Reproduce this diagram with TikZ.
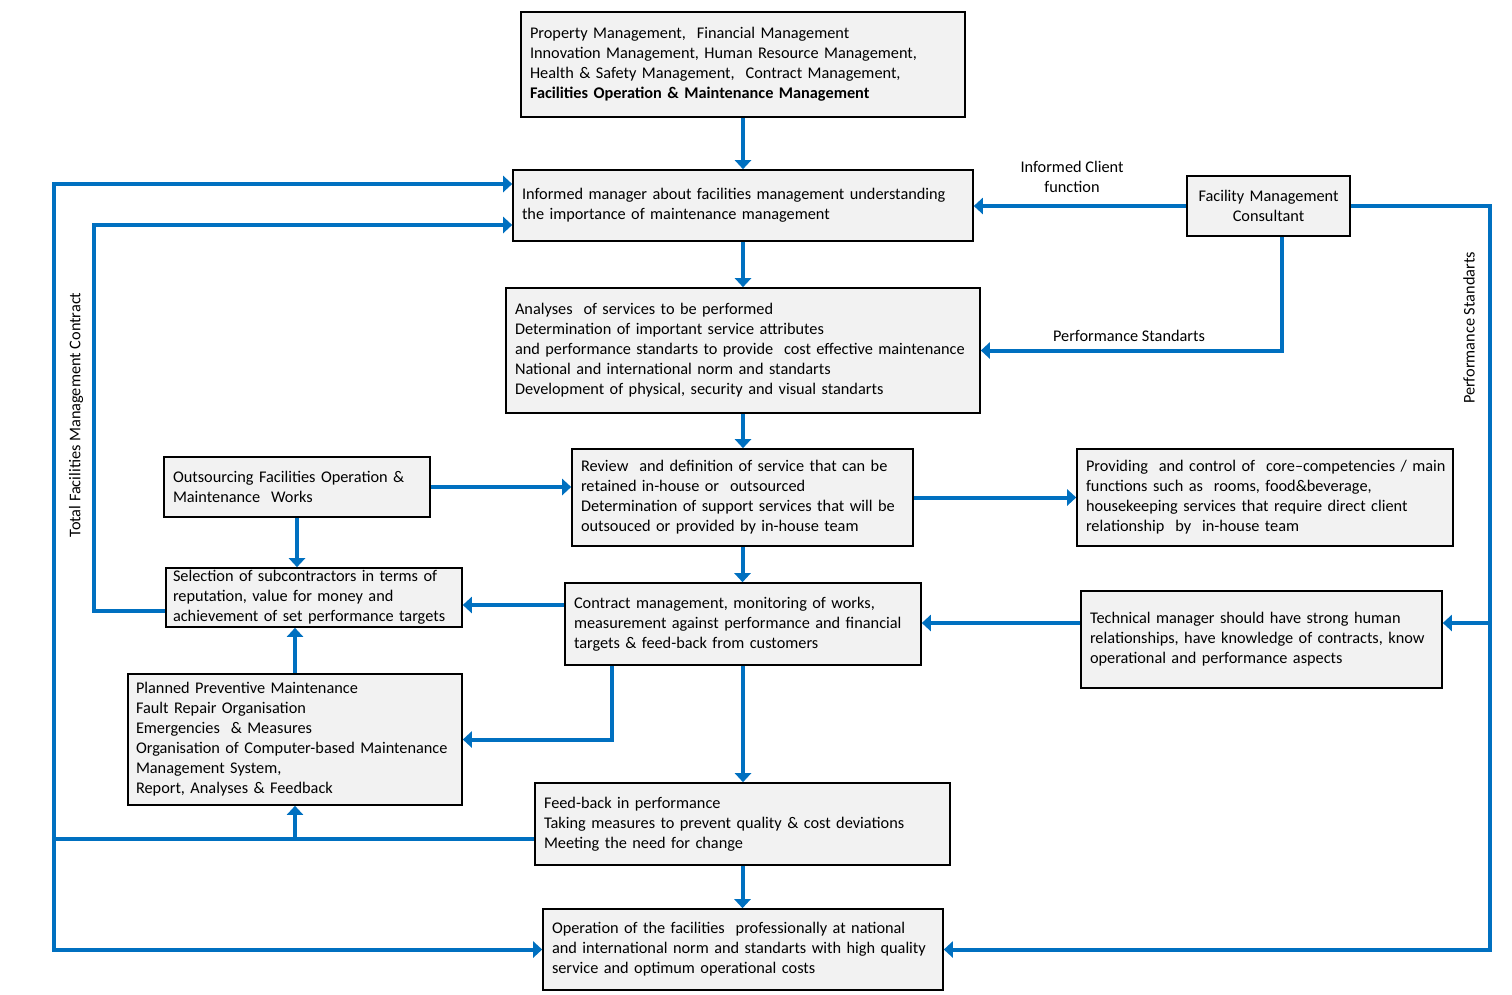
\documentclass[tikz,border=0pt]{standalone}
\usepackage{fontspec}
\setmainfont{Carlito}
\usetikzlibrary{arrows.meta,calc}
\definecolor{conblue}{RGB}{0,112,192}
\definecolor{boxfill}{RGB}{242,242,242}
\begin{document}
\begin{tikzpicture}[x=1pt,y=-1pt,
  box/.style={draw=black, line width=1.6pt, fill=boxfill, align=left,
    inner xsep=9pt, inner ysep=2pt, font=\fontsize{16.3}{20}\selectfont},
  lbl/.style={font=\fontsize{16.3}{20}\selectfont, align=center, inner sep=1pt},
  conn/.style={draw=conblue, line width=4pt},
  arr/.style={conn, -{Triangle[width=16pt,length=9pt]}}]
\useasboundingbox (0,0) rectangle (1512,994);

% boxes
\node[box, minimum width=444pt, text width=426pt, minimum height=105pt] (top) at (743,64.5)
 {Property Management,\ \ Financial Management\\
  Innovation Management, Human Resource Management,\\
  Health \& Safety Management,\ \ Contract Management,\\
  \textbf{Facilities Operation \& Maintenance Management}};
\node[box, minimum width=460pt, text width=442pt, minimum height=71pt] (inf) at (743,205.5)
 {Informed manager about facilities management understanding\\
  the importance of maintenance management};
\node[box, minimum width=474pt, text width=456pt, minimum height=125pt] (ana) at (743,350.5)
 {Analyses\ \ of services to be performed\\
  Determination of important service attributes\\
  and performance standarts to provide\ \ cost effective maintenance\\
  National and international norm and standarts\\
  Development of physical, security and visual standarts};
\node[box, minimum width=341pt, text width=323pt, minimum height=97pt] (rev) at (742.5,497.5)
 {Review\ \ and definition of service that can be\\
  retained in-house or\ \ outsourced\\
  Determination of support services that will be\\
  outsouced or provided by in-house team};
\node[box, minimum width=266pt, text width=248pt, minimum height=60pt] (out) at (297,487)
 {Outsourcing Facilities Operation \&\\
  Maintenance\ \ Works};
\node[box, minimum width=376pt, text width=358pt, minimum height=97pt] (prov) at (1265,497.5)
 {\mbox{Providing\ \ and control of\ \ core--competencies / main}\\
  functions such as\ \ rooms, food\&beverage,\\
  housekeeping services that require direct client\\
  relationship\ \ by\ \ in-house team};
\node[box, minimum width=296pt, text width=282pt, inner xsep=7pt, minimum height=59pt] (sel) at (314,597.5)
 {Selection of subcontractors in terms of\\
  reputation, value for money and\\
  achievement of set performance targets};
\node[box, minimum width=356pt, text width=338pt, minimum height=82pt] (con) at (743,624)
 {Contract management, monitoring of works,\\
  measurement against performance and financial\\
  targets \& feed-back from customers};
\node[box, minimum width=361pt, text width=343pt, minimum height=97pt] (tech) at (1261.5,639.5)
 {Technical manager should have strong human\\
  relationships, have knowledge of contracts, know\\
  operational and performance aspects};
\node[box, minimum width=334pt, text width=318pt, inner xsep=8pt, minimum height=131pt] (plan) at (295,739.5)
 {Planned Preventive Maintenance\\
  Fault Repair Organisation\\
  Emergencies\ \ \& Measures\\
  Organisation of Computer-based Maintenance\\
  Management System,\\
  Report, Analyses \& Feedback};
\node[box, minimum width=415pt, text width=397pt, minimum height=82pt] (fb) at (742.5,824)
 {Feed-back in performance\\
  Taking measures to prevent quality \& cost deviations\\
  Meeting the need for change};
\node[box, minimum width=400pt, text width=382pt, minimum height=81pt] (op) at (743,949.5)
 {Operation of the facilities\ \ professionally at national\\
  and international norm and standarts with high quality\\
  service and optimum operational costs};
\node[box, align=center, minimum width=163pt, text width=150pt, inner xsep=6.5pt, minimum height=60pt] (fmc) at (1268.5,206)
 {Facility Management\\Consultant};

% labels
\node[lbl] (lic) at (1072,177) {Informed Client\\function};
\node[lbl] (lps) at (1129,336) {Performance Standarts};
\node[lbl, rotate=90] (lps2) at (1469,328) {Performance Standarts};
\node[lbl, rotate=90] (ltf) at (76,415) {Total Facilities Management Contract};

% helper coordinates
\coordinate (lx) at (54,0);
\coordinate (ix) at (94,0);
\coordinate (rx) at (1490,0);
\coordinate (cx612) at (612,0);
\coordinate (y184) at (0,184);
\coordinate (y225) at (0,225);
\coordinate (y605) at (0,605);
\coordinate (y611) at (0,611);
\coordinate (y623) at (0,623);
\coordinate (y839) at (0,839);
\coordinate (fmcB) at ($(fmc.south west)!0.583!(fmc.south east)$);

% central flow
\draw[arr] (top.south) -- (top.south |- inf.north);
\draw[arr] (inf.south) -- (inf.south |- ana.north);
\draw[arr] (ana.south) -- (ana.south |- rev.north);
\draw[arr] (rev.south) -- (rev.south |- con.north);
\draw[arr] (con.south) -- (con.south |- fb.north);
\draw[arr] (fb.south) -- (fb.south |- op.north);

% consultant
\draw[arr] (fmc.west) -- (fmc.west -| inf.east);
\draw[arr] (fmcB) |- (ana.east);
\draw[arr] (fmc.east) -- (fmc.east -| rx) -- (rx |- op.east) -- (op.east);
\draw[arr] (rx |- y623) -- (tech.east |- y623);

% middle
\draw[arr] (out.east) -- (out.east -| rev.west);
\draw[arr] (rev.east) -- (rev.east -| prov.west);
\draw[arr] (out.south) -- (out.south |- sel.north);
\draw[arr] (plan.north) -- (plan.north |- sel.south);
\draw[arr] (con.west |- y605) -- (sel.east |- y605);
\draw[arr] (cx612 |- con.south) |- (plan.east);
\draw[arr] (tech.west |- y623) -- (con.east |- y623);

% left loops
\draw[conn] (fb.west |- y839) -- (lx |- y839);
\draw[arr] (plan.south |- y839) -- (plan.south);
\draw[arr] (lx |- y839) -- (lx |- y184) -- (inf.west |- y184);
\draw[arr] (lx |- y839) -- (lx |- op.west) -- (op.west);
\draw[arr] (sel.west |- y611) -- (ix |- y611) -- (ix |- y225) -- (inf.west |- y225);
\end{tikzpicture}
\end{document}
